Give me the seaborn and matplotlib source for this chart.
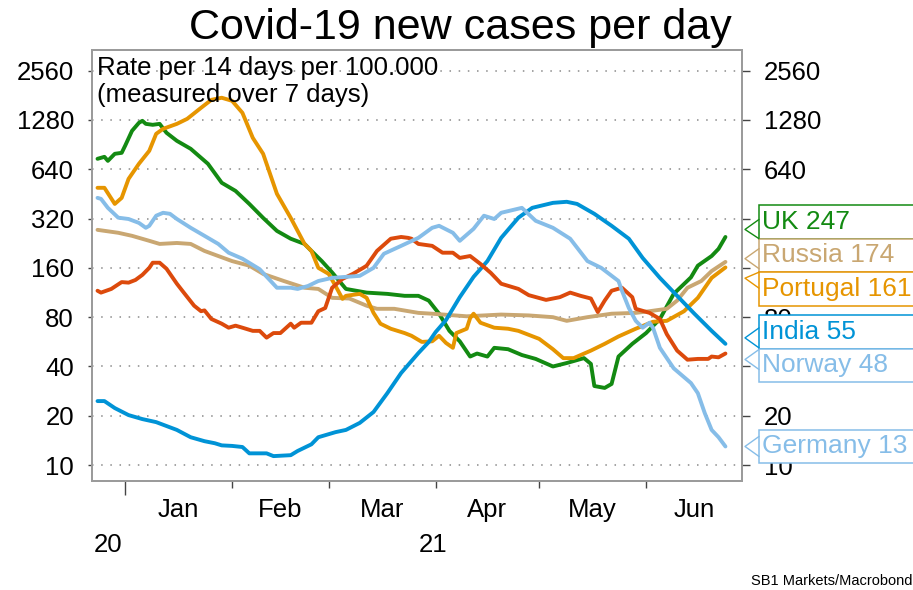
import matplotlib
matplotlib.use("Agg")
import pandas as pd
import matplotlib.pyplot as plt
import matplotlib.dates as mdates
from matplotlib import ticker, transforms
from matplotlib.patches import Rectangle
from matplotlib.lines import Line2D
import seaborn as sns

sns.set_theme(style="ticks")
plt.rcParams['font.family'] = ['Liberation Sans', 'DejaVu Sans']
plt.rcParams['text.color'] = 'black'
plt.rcParams['xtick.labelcolor'] = 'black'
plt.rcParams['ytick.labelcolor'] = 'black'

START = pd.Timestamp('2021-01-01')

countries = ['UK', 'Russia', 'Portugal', 'India', 'Norway', 'Germany']
line_colors = ['#138a12', '#c9a772', '#e69500', '#0093d6', '#dc4a0c', '#86bde8']
label_colors = ['#138a12', '#c9a772', '#e69500', '#0093d6', '#86bde8', '#86bde8']
label_values = [247, 174, 161, 55, 48, 13]

# days counted from 2021-01-01, values = rate per 14 days per 100k
uk_days = [-8, -6, -5, -3, -1, 0, 2, 4, 5, 6, 8, 10, 12, 15, 19, 24, 28, 32, 36, 40,
           44, 48, 52, 54, 57, 60, 64, 70, 76, 81, 85, 88, 91, 94, 97, 100, 102, 105, 107, 111,
           115, 119, 124, 128, 133, 135, 136, 139, 141, 143, 147, 151, 155, 159, 164, 166, 170, 172, 174]
uk_vals = [741, 762, 720, 795, 806, 890, 1098, 1229, 1264, 1211, 1195, 1211, 1068, 954, 853, 691, 529, 472, 393, 323,
           269, 241, 224, 203, 176, 150, 119, 113, 111, 108, 108, 101, 84, 66, 57, 46, 48, 46, 52, 51,
           47, 44.5, 40, 42, 45, 41.5, 30.4, 29.6, 31.3, 46, 55, 64, 78, 111, 140, 165, 189, 209, 247]

russia_days = [-8, -2, 2, 7, 10, 15, 19, 23, 27, 31, 36, 40, 46, 52, 56, 60, 65, 70, 73, 78,
               85, 89, 99, 109, 117, 124, 128, 134, 141, 148, 152, 157, 160, 163, 167, 170, 174]
russia_vals = [273, 262, 251, 234, 224, 227, 224, 203, 189, 176, 165, 147, 133, 121, 119, 105, 104, 94, 90, 90,
               85, 84, 81, 83, 82, 80, 76, 80, 84, 85, 87, 90, 101, 121, 133, 153, 174]

portugal_days = [-8, -6, -3, -1, 1, 4, 7, 9, 11, 15, 18, 22, 25, 28, 31, 34, 37, 40, 44, 48,
                 52, 54, 56, 59, 61, 63, 64, 68, 70, 72, 74, 77, 81, 83, 86, 89, 91, 93, 95, 96,
                 99, 100, 101, 103, 107, 111, 114, 120, 124, 127, 130, 135, 139, 143, 148, 153, 157, 162, 166, 170,
                 174]
portugal_vals = [493, 493, 393, 428, 559, 691, 829, 1053, 1129, 1211, 1300, 1517, 1698, 1748, 1674, 1414, 995, 795, 453, 323,
                 224, 203, 160, 147, 124, 103.5, 108, 111, 105, 85, 73, 68, 64, 61.6, 56.5, 57, 61.6, 55.7, 52, 64,
                 68, 79, 84, 74, 69, 68, 66, 59, 51, 45, 45, 50, 55, 61, 68, 75, 76, 87, 105, 139,
                 161]

india_days = [-8, -6, -3, 1, 5, 9, 15, 19, 23, 26, 28, 31, 34, 36, 41, 43, 48, 50, 54, 56,
              61, 64, 68, 72, 76, 80, 85, 88, 90, 93, 97, 101, 105, 109, 114, 118, 124, 128, 131, 136,
              141, 146, 150, 155, 160, 165, 170, 174]
india_vals = [24.6, 24.6, 22.3, 20.2, 19.1, 18.3, 16.4, 14.8, 14.0, 13.6, 13.2, 13.1, 12.9, 11.8, 11.8, 11.35, 11.5, 12.2, 13.4, 14.8,
              15.9, 16.4, 18.1, 21.1, 27.5, 36.5, 48.3, 56.4, 64.9, 76.8, 106, 141, 176, 244, 324, 372, 399, 405, 393, 342,
              289, 241, 184, 139, 108, 84, 66, 55]

norway_days = [-8, -7, -4, -1, 1, 3, 5, 7, 8, 10, 12, 15, 17, 20, 22, 23, 25, 28, 30, 32,
               34, 37, 39, 41, 43, 45, 48, 49, 51, 54, 56, 58, 60, 63, 66, 69, 70, 73, 77, 80,
               82, 83, 85, 89, 92, 95, 97, 100, 103, 106, 109, 114, 117, 122, 126, 129, 132, 135, 137, 139,
               141, 144, 147, 148, 152, 155, 157, 160, 163, 166, 169, 170, 172, 174]
norway_vals = [116, 113, 119, 131, 130, 135, 145, 160, 172, 172, 158, 128, 113, 94, 87, 88, 78, 73, 69, 71,
               69, 66, 66, 60, 64, 64, 73, 69, 74, 74, 87, 91, 121, 137, 147, 160, 165, 203, 241, 247,
               244, 241, 224, 218, 198, 198, 184, 189, 169, 149, 128, 119, 109, 102, 106, 113, 108, 104, 86, 101,
               116, 121, 106, 90, 85, 78, 63, 50, 44, 44.5, 44.5, 46, 45.5, 48]

germany_days = [-8, -7, -5, -2, 1, 4, 6, 7, 9, 11, 13, 15, 19, 23, 27, 30, 34, 39, 40, 44,
                48, 50, 53, 56, 60, 68, 72, 75, 80, 85, 89, 91, 95, 97, 101, 104, 107, 109, 115, 119,
                124, 129, 134, 138, 143, 144, 146, 148, 150, 152, 153, 155, 159, 164, 166, 168, 170, 172, 174]
germany_vals = [428, 422, 372, 324, 318, 301, 281, 289, 333, 347, 342, 318, 281, 251, 224, 198, 182, 157, 149, 121,
                121, 119, 124, 133, 139, 143, 160, 195, 218, 244, 281, 289, 262, 234, 277, 333, 318, 347, 372, 310,
                281, 241, 176, 160, 133, 116, 91, 76, 69, 74, 69, 52, 39, 31.7, 27.5, 20.8, 16.4, 14.8, 13]

yticks = [10, 20, 40, 80, 160, 320, 640, 1280, 2560]
months = ['Jan', 'Feb', 'Mar', 'Apr', 'May', 'Jun']

series = {
    'UK': (uk_days, uk_vals),
    'Russia': (russia_days, russia_vals),
    'Portugal': (portugal_days, portugal_vals),
    'India': (india_days, india_vals),
    'Norway': (norway_days, norway_vals),
    'Germany': (germany_days, germany_vals),
}

frames = []
for c in countries:
    d, v = series[c]
    frames.append(pd.DataFrame({'date': START + pd.to_timedelta(d, unit='D'), 'value': v, 'country': c}))
df = pd.concat(frames, ignore_index=True)

W, H = 913, 590
fig = plt.figure(figsize=(W / 100, H / 100), dpi=100)
fig.patch.set_facecolor('white')
ax = fig.add_axes([92 / W, 1 - 481 / H, 650 / W, 431 / H])

sns.lineplot(data=df, x='date', y='value', hue='country', hue_order=countries,
             palette=dict(zip(countries, line_colors)), legend=False, linewidth=2.8,
             estimator=None, ax=ax)

x0 = START - pd.Timedelta(days=9.6)
x1 = START + pd.Timedelta(days=178.8)
ax.set_xlim(x0, x1)

ax2 = ax.twinx()
for a in (ax, ax2):
    a.set_yscale('log', base=2)
    a.set_ylim(8.0, 3420)
    a.yaxis.set_major_locator(ticker.FixedLocator(yticks))
    a.yaxis.set_minor_locator(ticker.NullLocator())
    for s in a.spines.values():
        s.set_color('#9b9b9b')
        s.set_linewidth(1.3)
ax.yaxis.set_major_formatter(ticker.FixedFormatter([str(t) for t in yticks]))
ax.set_xlabel('')
ax.set_ylabel('')
ax.tick_params(axis='y', length=3, width=1, color='#444444', labelsize=18.5, pad=10)
ax2.tick_params(axis='y', length=6, width=1, color='#444444', labelsize=18.5, pad=10)
ax.grid(axis='y', linestyle=(0, (1, 5)), color='#8a8a8a', linewidth=1.1)
ax.grid(axis='x', visible=False)

# x axis: year tick longer, month ticks short, labels centred on months
ax.xaxis.set_major_locator(ticker.FixedLocator([mdates.date2num(START)]))
ax.xaxis.set_minor_locator(ticker.FixedLocator(
    mdates.date2num(pd.date_range('2021-02-01', '2021-06-01', freq='MS'))))
ax.xaxis.set_major_formatter(ticker.NullFormatter())
ax.xaxis.set_minor_formatter(ticker.NullFormatter())
ax.tick_params(axis='x', which='major', length=10, width=1, color='#444444')
ax.tick_params(axis='x', which='minor', length=5, width=1, color='#444444')

trans = transforms.blended_transform_factory(ax.transData, ax.transAxes)
mstarts = pd.date_range('2021-01-01', periods=7, freq='MS')
for i, m in enumerate(months):
    a_, b_ = mstarts[i], min(mstarts[i + 1], x1)
    mid = a_ + (b_ - a_) / 2
    ax.text(mdates.date2num(mid), -0.067, m, transform=trans, ha='center', va='center', fontsize=18.5)
for lab, a_, b_ in (('20', x0, START), ('21', START, x1)):
    mid = a_ + (b_ - a_) / 2
    ax.text(mdates.date2num(mid), -0.148, lab, transform=trans, ha='center', va='center', fontsize=18.5)

ax.text(0.008, 0.985, 'Rate per 14 days per 100.000\n(measured over 7 days)', transform=ax.transAxes,
        ha='left', va='top', fontsize=18.5, linespacing=1.15)

fig.text(0.504, 1 - 28 / H, 'Covid-19 new cases per day', ha='center', va='center', fontsize=31)
fig.text(0.999, 1 - 581 / H, 'SB1 Markets/Macrobond', ha='right', va='center', fontsize=10.5)

# end labels with callout boxes, spread to avoid overlap
ident = transforms.IdentityTransform()
box_h = 33.5
end_px = []
for c in countries:
    d, v = series[c]
    end_px.append(ax.transData.transform((mdates.date2num(START + pd.Timedelta(days=d[-1])), v[-1]))[1])
order = sorted(range(len(countries)), key=lambda i: -end_px[i])
groups = [[i] for i in order]


def place(g):
    c = sum(end_px[i] for i in g) / len(g)
    return [c + (len(g) - 1) / 2 * box_h - k * box_h for k in range(len(g))]


changed = True
while changed:
    changed = False
    for k in range(len(groups) - 1):
        if place(groups[k])[-1] - place(groups[k + 1])[0] < box_h:
            groups[k] = groups[k] + groups.pop(k + 1)
            changed = True
            break

centers = {}
for g in groups:
    for i, y in zip(g, place(g)):
        centers[i] = y


def covered(y):
    return any(abs(y - yc) <= box_h / 2 for yc in centers.values())


# right-hand tick labels that sit fully behind the label boxes are not visible
right_labels = []
for t in yticks:
    ty = ax.transData.transform((0, t))[1]
    hidden = covered(ty - 9) and covered(ty) and covered(ty + 9)
    right_labels.append('' if hidden else str(t))
ax2.yaxis.set_major_formatter(ticker.FixedFormatter(right_labels))

right_px = ax.bbox.x1
box_left = right_px + 17
for i, c in enumerate(countries):
    yc = centers[i]
    tip_y = (yc + end_px[i]) / 2
    fig.add_artist(Rectangle((box_left, yc - box_h / 2), 300, box_h, transform=ident,
                             facecolor='white', edgecolor=label_colors[i], linewidth=1.1, zorder=5))
    top = min(tip_y + 10, yc + box_h / 2)
    bot = max(tip_y - 10, yc - box_h / 2)
    fig.add_artist(Line2D([box_left, right_px + 3, box_left], [top, tip_y, bot], transform=ident,
                          color=label_colors[i], linewidth=1.0, zorder=6))
    fig.text(box_left + 3, yc, f'{c} {label_values[i]}', transform=ident, ha='left', va='center',
             fontsize=19, color=label_colors[i], zorder=7)

fig.savefig('out.png', dpi=100)
